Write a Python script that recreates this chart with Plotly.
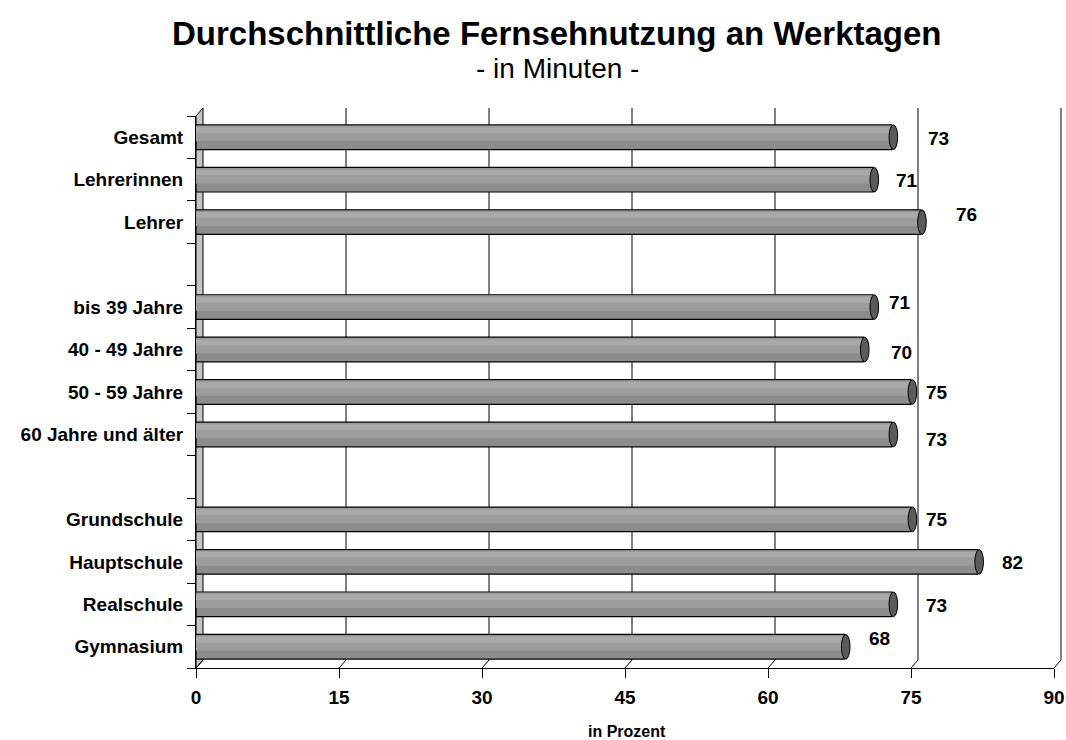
import plotly.graph_objects as go

categories = ["Gesamt", "Lehrerinnen", "Lehrer", " ",
              "bis 39 Jahre", "40 - 49 Jahre", "50 - 59 Jahre", "60 Jahre und älter", "  ",
              "Grundschule", "Hauptschule", "Realschule", "Gymnasium"]
values = [73, 71, 76, None, 71, 70, 75, 73, None, 75, 82, 73, 68]
x_ticks = [0, 15, 30, 45, 60, 75, 90]
x_range = [0, 90]

# label offsets (style only): pixel shifts for value labels
label_dx = [34, 21, 33, 0, 14, 26, 13, 32, 0, 13, 22, 32, 23]
label_dy = [1, 1, -8, 0, -5, 3, 0, 5, 0, 0, 1, 1, -8]

W, H = 1066, 740
ML, MR, MT, MB = 196, 12, 116, 72
PW, PH = W - ML - MR, H - MT - MB
DX, DY = 7, 8  # 3D depth offset in px
FONT = "Liberation Sans, Arial"

fig = go.Figure()

bar_w = 0.58
fig.add_trace(go.Bar(y=categories, x=values, orientation="h", width=bar_w,
                     marker=dict(color="#8c8c8c", line=dict(color="black", width=1.2)),
                     hoverinfo="skip", showlegend=False))
fig.add_trace(go.Bar(y=categories, x=values, orientation="h", width=bar_w * 0.62, offset=-bar_w / 2 + 0.02,
                     marker=dict(color="#9c9c9c", line=dict(width=0)),
                     hoverinfo="skip", showlegend=False))
fig.add_trace(go.Bar(y=categories, x=values, orientation="h", width=bar_w * 0.22, offset=-bar_w / 2 + 0.06,
                     marker=dict(color="#aaaaaa", line=dict(width=0)),
                     hoverinfo="skip", showlegend=False))


def tick_paper(t):
    return (t - x_range[0]) / (x_range[1] - x_range[0])


shapes = []
# left wall strip
shapes.append(dict(type="path", xref="paper", yref="paper",
                   path=f"M 0 0 L {DX/PW} {DY/PH} L {DX/PW} {1+DY/PH} L 0 1 Z",
                   fillcolor="#c4c4c4", line=dict(color="black", width=1), layer="below"))
# back wall grid lines (offset)
for t in x_ticks[1:]:
    shapes.append(dict(type="line", xref="paper", yref="paper", xsizemode="pixel", xanchor=tick_paper(t),
                       ysizemode="pixel", yanchor=0, x0=DX, x1=DX, y0=DY, y1=PH + DY,
                       line=dict(color="black", width=1), layer="below"))
# floor slants
for t in x_ticks:
    shapes.append(dict(type="line", xref="paper", yref="paper", xsizemode="pixel", xanchor=tick_paper(t),
                       ysizemode="pixel", yanchor=0, x0=0, x1=DX, y0=0, y1=DY,
                       line=dict(color="black", width=1), layer="below"))
# end caps
for i, v in enumerate(values):
    if v is None:
        continue
    shapes.append(dict(type="circle", xref="x", yref="y",
                       x0=v - 0.3, x1=v + 0.6, y0=i - bar_w / 2, y1=i + bar_w / 2,
                       fillcolor="#5a5a5a", line=dict(color="black", width=1)))

annotations = []
for i, v in enumerate(values):
    if v is None:
        continue
    annotations.append(dict(x=v, y=categories[i], xref="x", yref="y", text=f"<b>{v}</b>",
                            showarrow=False, xanchor="left", xshift=label_dx[i], yshift=-label_dy[i],
                            font=dict(family=FONT, size=19, color="black")))


def px_to_paper(xp, yp):
    return (xp - ML) / PW, (H - yp - MB) / PH


tx, ty = px_to_paper(557, 33)
annotations.append(dict(x=tx, y=ty, xref="paper", yref="paper", xanchor="center", yanchor="middle",
                        text="<b>Durchschnittliche Fernsehnutzung an Werktagen</b>", showarrow=False,
                        font=dict(family=FONT, size=33, color="black")))
sx, sy = px_to_paper(557, 68)
annotations.append(dict(x=sx, y=sy, xref="paper", yref="paper", xanchor="center", yanchor="middle",
                        text="- in Minuten -", showarrow=False,
                        font=dict(family=FONT, size=28, color="black")))
px_, py_ = px_to_paper(627, 731)
annotations.append(dict(x=px_, y=py_, xref="paper", yref="paper", xanchor="center", yanchor="middle",
                        text="<b>in Prozent</b>", showarrow=False,
                        font=dict(family=FONT, size=16, color="black")))

fig.update_layout(
    width=W, height=H,
    margin=dict(l=ML, r=MR, t=MT, b=MB),
    paper_bgcolor="white", plot_bgcolor="white",
    barmode="overlay",
    showlegend=False,
    font=dict(family=FONT, color="black"),
    shapes=shapes,
    annotations=annotations,
)
fig.update_xaxes(range=x_range, tickvals=x_ticks, ticktext=[f"<b>{t}</b>" for t in x_ticks],
                 ticks="outside", ticklen=9, tickcolor="black", showgrid=False, zeroline=False,
                 showline=True, linecolor="black", linewidth=1, automargin=False,
                 tickfont=dict(size=19, family=FONT), ticklabelstandoff=3)
fig.update_yaxes(type="category", categoryorder="array", categoryarray=categories,
                 autorange="reversed", tickson="boundaries", ticks="outside", ticklen=8,
                 tickcolor="black", showgrid=False, zeroline=False,
                 showline=True, linecolor="black", linewidth=1, automargin=False,
                 ticktext=[f"<b>{c}</b>" for c in categories], tickvals=categories,
                 tickfont=dict(size=19, family=FONT), ticklabelstandoff=8)

fig.write_html("out.html", config={"displayModeBar": False},
               post_script="document.body.style.margin='0';document.body.style.overflow='hidden';")
